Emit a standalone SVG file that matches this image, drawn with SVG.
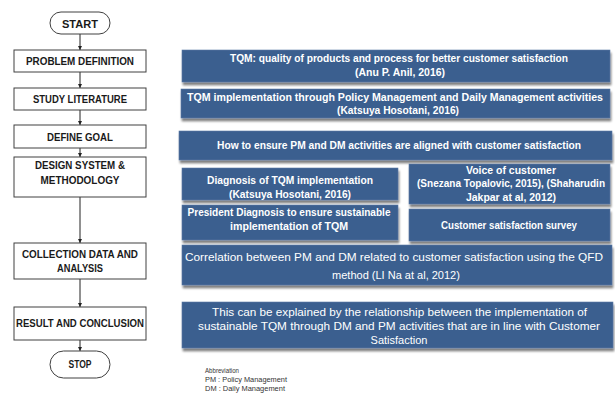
<svg xmlns="http://www.w3.org/2000/svg" width="615" height="398" viewBox="0 0 615 398">
<style>
.fc{fill:#fff;stroke:#404040;stroke-width:1}
.ft{font-family:"Liberation Sans",Arial,sans-serif;font-weight:bold;font-size:10.4px;fill:#1a1a1a;text-anchor:middle}
.bb{fill:#3b5f8f;stroke:#5a7aa5;stroke-width:0.6;filter:url(#sh)}
.bt{font-family:"Liberation Sans",Arial,sans-serif;font-weight:bold;font-size:10.2px;fill:#fff;text-anchor:middle}
.rt{font-family:"Liberation Sans",Arial,sans-serif;font-size:11px;fill:#fff;text-anchor:middle}
.ab{font-family:"Liberation Sans",Arial,sans-serif;font-size:7.4px;fill:#333}
.cn{stroke:#222;stroke-width:1;fill:none;marker-end:url(#ah)}
</style>
<defs>
<marker id="ah" viewBox="0 0 6 6" refX="6" refY="3" markerWidth="4" markerHeight="4" orient="auto" markerUnits="userSpaceOnUse">
<path d="M0,0 L6,3 L0,6 z" fill="#222"/>
</marker>
<filter id="sh" x="-5%" y="-20%" width="110%" height="150%">
<feGaussianBlur in="SourceAlpha" stdDeviation="1.2"/>
<feOffset dx="1" dy="2.5" result="o"/>
<feComponentTransfer><feFuncA type="linear" slope="0.5"/></feComponentTransfer>
<feMerge><feMergeNode/><feMergeNode in="SourceGraphic"/></feMerge>
</filter>
</defs>
<rect width="615" height="398" fill="#fff"/>

<g id="connectors">
<line class="cn" x1="80" y1="34" x2="80" y2="50"/>
<line class="cn" x1="80" y1="72" x2="80" y2="88"/>
<line class="cn" x1="80" y1="110" x2="80" y2="125"/>
<line class="cn" x1="80" y1="148" x2="80" y2="157"/>
<line class="cn" x1="80" y1="197" x2="80" y2="243"/>
<line class="cn" x1="80" y1="279" x2="80" y2="307"/>
<line class="cn" x1="80" y1="340" x2="80" y2="351"/>
</g>

<g id="start">
<rect class="fc" x="50" y="12" width="60" height="22" rx="11"/>
<text class="ft" x="80" y="27.5" textLength="36" lengthAdjust="spacingAndGlyphs">START</text>
</g>
<g id="problem">
<rect class="fc" x="14" y="50" width="132" height="22"/>
<text class="ft" x="80" y="64.5" textLength="108" lengthAdjust="spacingAndGlyphs">PROBLEM DEFINITION</text>
</g>
<g id="study">
<rect class="fc" x="14" y="88" width="132" height="22"/>
<text class="ft" x="80" y="102.5" textLength="94" lengthAdjust="spacingAndGlyphs">STUDY LITERATURE</text>
</g>
<g id="goal">
<rect class="fc" x="14" y="125" width="132" height="23"/>
<text class="ft" x="80" y="140.5" textLength="66" lengthAdjust="spacingAndGlyphs">DEFINE GOAL</text>
</g>
<g id="design">
<rect class="fc" x="14" y="157" width="132" height="40"/>
<text class="ft" x="80" y="168.5" textLength="90" lengthAdjust="spacingAndGlyphs">DESIGN SYSTEM &amp;</text>
<text class="ft" x="80" y="183.5" textLength="79" lengthAdjust="spacingAndGlyphs">METHODOLOGY</text>
</g>
<g id="collection">
<rect class="fc" x="14" y="243" width="132" height="36"/>
<text class="ft" x="80" y="257.5" textLength="116" lengthAdjust="spacingAndGlyphs">COLLECTION DATA AND</text>
<text class="ft" x="80" y="271.5" textLength="46" lengthAdjust="spacingAndGlyphs">ANALYSIS</text>
</g>
<g id="result">
<rect class="fc" x="14" y="307" width="132" height="33"/>
<text class="ft" x="80" y="326.5" textLength="128" lengthAdjust="spacingAndGlyphs">RESULT AND CONCLUSION</text>
</g>
<g id="stop">
<rect class="fc" x="50" y="351" width="60" height="27" rx="13.5"/>
<text class="ft" x="80" y="367.5" textLength="23" lengthAdjust="spacingAndGlyphs">STOP</text>
</g>

<g id="tqm-quality">
<rect class="bb" x="182" y="50" width="428" height="32"/>
<text class="bt" x="399" y="61.5" textLength="338" lengthAdjust="spacingAndGlyphs">TQM: quality of products and process for better customer satisfaction</text>
<text class="bt" x="400" y="76" textLength="90" lengthAdjust="spacingAndGlyphs">(Anu P. Anil, 2016)</text>
</g>
<g id="tqm-impl">
<rect class="bb" x="181" y="89" width="429" height="29"/>
<text class="bt" x="395" y="100.5" textLength="416" lengthAdjust="spacingAndGlyphs">TQM implementation through Policy Management and Daily Management activities</text>
<text class="bt" x="398" y="114" textLength="122" lengthAdjust="spacingAndGlyphs">(Katsuya Hosotani, 2016)</text>
</g>
<g id="goal-q">
<rect class="bb" x="179" y="131" width="433" height="29"/>
<text class="bt" x="399" y="148.5" textLength="364" lengthAdjust="spacingAndGlyphs">How to ensure PM and DM activities are aligned with customer satisfaction</text>
</g>
<g id="diagnosis">
<rect class="bb" x="182" y="168" width="216" height="32"/>
<text class="bt" x="290" y="183.5" textLength="166" lengthAdjust="spacingAndGlyphs">Diagnosis of TQM implementation</text>
<text class="bt" x="290" y="197.5" textLength="122" lengthAdjust="spacingAndGlyphs">(Katsuya Hosotani, 2016)</text>
</g>
<g id="voice">
<rect class="bb" x="409" y="164" width="201" height="40"/>
<text class="bt" x="511" y="173.5" textLength="90" lengthAdjust="spacingAndGlyphs">Voice of customer</text>
<text class="bt" x="511" y="187" textLength="188" lengthAdjust="spacingAndGlyphs">(Snezana Topalovic, 2015), (Shaharudin</text>
<text class="bt" x="511" y="200.5" textLength="90" lengthAdjust="spacingAndGlyphs">Jakpar at al, 2012)</text>
</g>
<g id="president">
<rect class="bb" x="182" y="205" width="216" height="35"/>
<text class="bt" x="289" y="215.5" textLength="203" lengthAdjust="spacingAndGlyphs">President Diagnosis to ensure sustainable</text>
<text class="bt" x="289" y="229.5" textLength="118" lengthAdjust="spacingAndGlyphs">implementation of TQM</text>
</g>
<g id="survey">
<rect class="bb" x="409" y="209" width="201" height="32"/>
<text class="bt" x="509" y="228.5" textLength="136" lengthAdjust="spacingAndGlyphs">Customer satisfaction survey</text>
</g>
<g id="correlation">
<rect class="bb" x="182" y="245" width="430" height="40"/>
<text class="rt" x="394" y="261" textLength="418" lengthAdjust="spacingAndGlyphs">Correlation between PM and DM related to customer satisfaction using the QFD</text>
<text class="rt" x="396" y="279">method (LI Na at al, 2012)</text>
</g>
<g id="conclusion">
<rect class="bb" x="182" y="302" width="431" height="46"/>
<text class="rt" x="399.5" y="316" textLength="375" lengthAdjust="spacingAndGlyphs">This can be explained by the relationship between the implementation of</text>
<text class="rt" x="399" y="330" textLength="402" lengthAdjust="spacingAndGlyphs">sustainable TQM through DM and PM activities that are in line with Customer</text>
<text class="rt" x="399" y="344">Satisfaction</text>
</g>

<g id="abbreviation">
<text class="ab" x="205" y="372.5" textLength="34" lengthAdjust="spacingAndGlyphs">Abbreviation</text>
<text class="ab" x="205" y="381.5" textLength="82" lengthAdjust="spacingAndGlyphs">PM : Policy Management</text>
<text class="ab" x="205" y="390.5" textLength="80" lengthAdjust="spacingAndGlyphs">DM : Daily Management</text>
</g>
</svg>
